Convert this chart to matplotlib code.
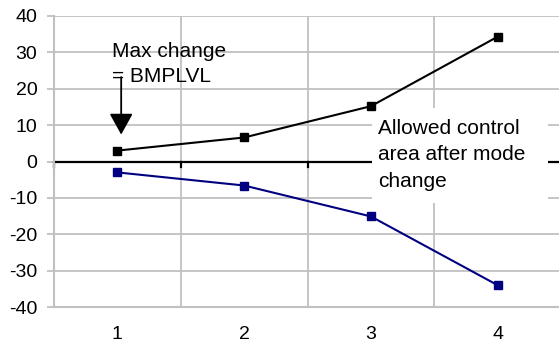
import matplotlib
matplotlib.use('Agg')
import matplotlib.pyplot as plt
from matplotlib.patches import Rectangle

plt.rcParams['font.family'] = ['Liberation Sans', 'DejaVu Sans']
plt.rcParams['font.size'] = 14
plt.rcParams['axes.unicode_minus'] = False

# upper / lower limits per step
steps = [1, 2, 3, 4]
upper = [3, 6.6, 15.2, 34.3]
lower = [-3, -6.6, -15.1, -34]
yticks = [40, 30, 20, 10, 0, -10, -20, -30, -40]

fig = plt.figure(figsize=(5.59, 3.54), dpi=100)
ax = fig.add_axes([54/559, 47/354, 507/559, 291/354])

ax.set_xlim(0.5, 4.5)
ax.set_ylim(-40, 40)
ax.set_yticks(yticks)
ax.set_xticks(steps)
ax.set_xticks([1.5, 2.5, 3.5], minor=True)

ax.grid(True, which='major', axis='y', color='#c0c0c0', lw=1.3)
ax.grid(True, which='minor', axis='x', color='#c0c0c0', lw=1.3)
ax.tick_params(axis='x', which='both', length=0, pad=14)
ax.tick_params(axis='y', length=5, width=1.3, color='#c0c0c0', pad=7)
for s in ['top', 'right']:
    ax.spines[s].set_visible(False)
for s in ['left', 'bottom']:
    ax.spines[s].set_color('#c0c0c0')
    ax.spines[s].set_linewidth(1.5)

# zero axis with small ticks at category boundaries
ax.axhline(0, color='black', lw=1.6, zorder=2)
for b in [0.5, 1.5, 2.5, 3.5]:
    ax.plot([b, b], [0, -1.4], color='black', lw=1.6, zorder=2, clip_on=False)

# white area behind label
ax.add_patch(Rectangle((3.01, -11.3), 1.39, 25.9, facecolor='white',
                       edgecolor='none', zorder=2.5))

ax.plot(steps, upper, color='black', lw=1.5, marker='s', ms=5.5,
        mfc='black', mec='black', zorder=3)
ax.plot(steps, lower, color='#000080', lw=1.5, marker='s', ms=5.5,
        mfc='#000080', mec='#000080', zorder=3)

ax.text(3.06, 1.8, 'Allowed control\narea after mode\nchange', va='center',
        ha='left', linespacing=1.5, fontsize=15, zorder=4)
ax.text(0.96, 26.8, 'Max change\n= BMPLVL', va='center', ha='left',
        linespacing=1.45, fontsize=15, zorder=4)
ax.annotate('', xy=(1.03, 7.4), xytext=(1.03, 23.2),
            arrowprops=dict(arrowstyle='-|>,head_length=13,head_width=7.2',
                            mutation_scale=1, color='black', lw=1.3,
                            shrinkA=0, shrinkB=0), zorder=4)

fig.savefig('out.png', dpi=100)
